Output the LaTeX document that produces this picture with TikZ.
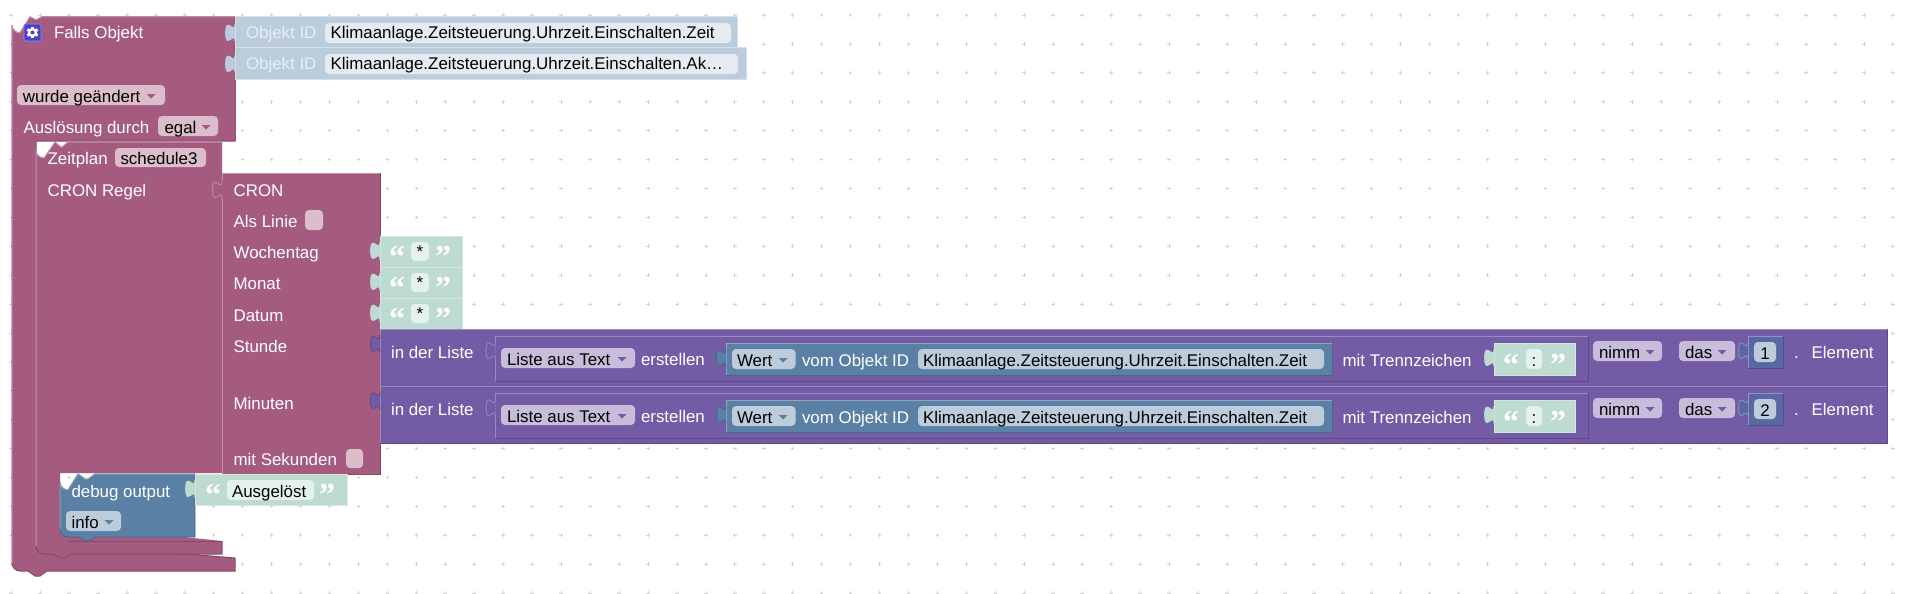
\documentclass[tikz,border=0pt]{standalone}
\usepackage{fontspec}
\setmainfont{Liberation Sans}
\newfontfamily\quotefont{Liberation Serif}
\definecolor{mag}{HTML}{A55B80}\definecolor{magL}{HTML}{C48FAA}\definecolor{magD}{HTML}{844966}\definecolor{magF}{HTML}{DBBDCC}
\definecolor{oid}{HTML}{BBCCDD}\definecolor{oidL}{HTML}{D5E0EA}\definecolor{oidF}{HTML}{E6EBF1}\definecolor{oidT}{HTML}{E8EEF4}
\definecolor{txt}{HTML}{BDDBD1}\definecolor{txtL}{HTML}{D3E7E0}\definecolor{txtF}{HTML}{E5F1ED}
\definecolor{pur}{HTML}{745BA5}\definecolor{purL}{HTML}{9B89C0}\definecolor{purD}{HTML}{5D4984}\definecolor{purF}{HTML}{C7BDDB}
\definecolor{blu}{HTML}{5B80A5}\definecolor{bluL}{HTML}{8CA6C0}\definecolor{bluD}{HTML}{496684}\definecolor{bluF}{HTML}{BDCCDB}
\definecolor{mth}{HTML}{5B67A5}\definecolor{mthD}{HTML}{495284}\definecolor{mthL}{HTML}{8C95C0}
\definecolor{gridc}{HTML}{D4D4D4}\definecolor{gearc}{HTML}{4A3FD0}
\tikzset{
  lab/.style={anchor=base west,inner sep=0pt,outer sep=0pt,font=\fontsize{16.9}{18}\selectfont},
  wlab/.style={lab,text=white},
  blab/.style={lab,text=black},
  qmark/.style={anchor=base,inner sep=0pt,outer sep=0pt,text=white,font=\quotefont\bfseries\fontsize{32}{32}\selectfont},
  fieldbox/.style={rounded corners=4pt,line width=0pt},
  edge/.style={line width=1pt},
  dropdown/.style={line width=0pt}
}
% \fieldr{x1}{y1}{x2}{y2}{colour}
\newcommand{\fieldr}[5]{\fill[fieldbox,#5] (#1,#2) rectangle (#3,#4);}
% \tabp{x}{y}{fill}{edge}
\newcommand{\tabp}[4]{\path[shift={(#1,#2)},fill=#3,draw=#4,line width=.8pt] (0,0) .. controls (0,11.7) and (-9.4,-9.4) .. (-9.4,8.8) .. controls (-9.4,27) and (0,5.9) .. (0,17.6);}
% \arrowd{x}{cy}{colour}
\newcommand{\arrowd}[3]{\fill[dropdown,#3,shift={(#1,#2)}] (-4.5,-2) -- (4.5,-2) -- (0,2.5) -- cycle;}
% \strblock{x1}{y1}{x2}{y2}
\newcommand{\boxed}[7]{\fill[#5] (#1,#2) rectangle (#3,#4);
  \draw[edge,#6] (#1,#4) -- (#1,#2) -- (#3,#2);
  \draw[edge,#7] (#3,#2) -- (#3,#4) -- (#1,#4);}
\begin{document}
\begin{tikzpicture}[x=1pt,y=-1pt]
\useasboundingbox (0,0) rectangle (1908,594);
\fill[white] (0,0) rectangle (1908,594);
% grid
\foreach \i in {0,...,65}{\foreach \j in {0,...,20}{
  \draw[gridc,line width=.6pt] ({11+28.95*\i-1.8},{15+28.9*\j}) -- ++(3.6,0) ({11+28.95*\i},{15+28.9*\j-1.8}) -- ++(0,3.6);
}}
% outer C block
\path[fill=mag,draw=magD,line width=1pt]
  (12,25) arc[start angle=180,end angle=90,radius=8] -- (30,17) -- (36,20) -- (42,17) -- (235,17) -- (235,141)
  -- (36,141) -- (36,550) arc[start angle=180,end angle=90,x radius=8,y radius=-8] -- (235,558) -- (235,571)
  -- (47,571) -- (40,576) -- (35,576) -- (28,571) -- (20,571) arc[start angle=90,end angle=180,radius=8] -- cycle;
\draw[edge,magL] (12,563) -- (12,25) arc[start angle=180,end angle=90,radius=8] -- (30,17) -- (36,20) -- (42,17) -- (235,17);
\draw[edge,magD!40!mag] (235,17) -- (235,141);
\fill[mag] (13,100) rectangle (36,560);
% Zeitplan block
\path[fill=mag]
  (36,150) arc[start angle=180,end angle=90,radius=8] -- (55,142) -- (61,147) -- (62,147) -- (68,142) -- (222,142) -- (222,473)
  -- (60,473) -- (60,533) arc[start angle=180,end angle=90,x radius=8,y radius=-8] -- (222,541) -- (222,554)
  -- (72,554) -- (65,558) -- (60,558) -- (53,554) -- (44,554) arc[start angle=90,end angle=180,radius=8] -- cycle;
\draw[edge,magL] (36,546) -- (36,150) arc[start angle=180,end angle=90,radius=8] -- (55,142) -- (61,147) -- (62,147) -- (68,142) -- (222,142);
\draw[edge,magD] (60,539) (68,541) -- (222,541);
\draw[edge,magD] (222,541) -- (222,554) -- (72,554) -- (65,558) -- (60,558) -- (53,554) -- (44,554) arc[start angle=90,end angle=180,radius=8];
% CRON block
\fill[mag] (222,173) rectangle (380,474);
\draw[edge,magL] (222,474) -- (222,198) (222,180) -- (222,173) -- (380,173);
\draw[edge,magD] (380,173) -- (380,474) -- (222,474);
\tabp{222}{181}{mag}{magL}
\fill[mag] (222.6,182) rectangle (224,198);
% Object ID blocks
\boxed{235}{17}{737}{48}{oid}{oidL}{oidL}
\boxed{235}{48}{746}{79}{oid}{oidL}{oidL}
\tabp{235}{24}{oid}{oid}
\tabp{235}{55}{oid}{oid}
\fieldr{325}{23}{731}{43}{oidF}
\fieldr{325}{54}{738}{74}{oidF}
% text blocks
\foreach \yy/\nm in {236/a,267/b,298/c}{
  \boxed{380}{\yy}{462}{\yy+31}{txt}{txtL}{txtL}
  \tabp{380}{\yy+6}{txt}{txt}
  \fieldr{411}{\yy+6}{429}{\yy+25}{txtF}
  \node[qmark] (qo\nm) at (397,\yy+31) {“};
  \node[qmark] (qc\nm) at (443,\yy+31) {”};
  \node[anchor=base,inner sep=0pt,font=\fontsize{16.9}{18}\selectfont] (st\nm) at (420,\yy+21.5) {*};
}
% purple rows
\foreach \yy/\dy/\num/\nm in {329/0/1/a,386/0/2/b}{
  \boxed{380}{\yy}{1887}{\yy+57}{pur}{purL}{purD}
  \tabp{380}{\yy+6}{pur}{purD}
  \fill[pur] (380.6,\yy+7) rectangle (382,\yy+23);
  % list block
  \draw[line width=1pt,purL] (1588,\yy+7) -- (495.5,\yy+7) -- (495.5,\yy+52);
  \draw[line width=1pt,purD] (495.5,\yy+52) -- (1588,\yy+52) -- (1588,\yy+7);
  \tabp{495.5}{\yy+13}{pur}{purL}
  \fill[pur] (496,\yy+14) rectangle (497,\yy+30);
  \fieldr{501}{\yy+19}{635}{\yy+39}{purF}
  \arrowd{622}{\yy+30}{pur}
  \node[blab] (la\nm) at (507,\yy+36) {Liste aus Text};
  \node[wlab] (er\nm) at (641,\yy+36) {erstellen};
  % value block
  \boxed{726}{\yy+14}{1332}{\yy+46}{blu}{bluL}{bluD}
  \tabp{726}{\yy+20}{blu}{bluD}
  \fieldr{732}{\yy+20}{795.5}{\yy+40}{bluF}
  \arrowd{783}{\yy+31}{blu}
  \node[blab] (we\nm) at (737,\yy+37) {Wert};
  \node[wlab] (vo\nm) at (802,\yy+37) {vom Objekt ID};
  \fieldr{918}{\yy+20}{1324}{\yy+40}{bluF}
  \node[blab] (kl\nm) at (923,\yy+37) {Klimaanlage.Zeitsteuerung.Uhrzeit.Einschalten.Zeit};
  \node[wlab] (mt\nm) at (1342.6,\yy+37) {mit Trennzeichen};
  % separator text
  \boxed{1494}{\yy+14}{1575}{\yy+46}{txt}{txtL}{txtL}
  \tabp{1494}{\yy+20}{txt}{txt}
  \fieldr{1526}{\yy+20}{1542}{\yy+40}{txtF}
  \node[qmark] (qs\nm) at (1511,\yy+46) {“};
  \node[qmark] (qe\nm) at (1558,\yy+46) {”};
  \node[anchor=base,inner sep=0pt,font=\fontsize{16.9}{18}\selectfont] (co\nm) at (1534,\yy+37) {:};
  % nimm, das
  \fieldr{1593}{\yy+12}{1662}{\yy+32}{purF}
  \arrowd{1650}{\yy+23}{pur}
  \node[blab] (ni\nm) at (1599,\yy+29) {nimm};
  \fieldr{1679}{\yy+12}{1735}{\yy+32}{purF}
  \arrowd{1722}{\yy+23}{pur}
  \node[blab] (da\nm) at (1685,\yy+29) {das};
  % number
  \boxed{1748}{\yy+7}{1783}{\yy+39}{mth}{mthL}{mthD}
  \tabp{1748}{\yy+13}{mth}{mthL}
  \fieldr{1754}{\yy+13}{1776}{\yy+33}{bluF}
  \node[anchor=base,inner sep=0pt,font=\fontsize{16.9}{18}\selectfont] (nu\nm) at (1765,\yy+30) {\num};
  \node[wlab] (do\nm) at (1794,\yy+29) {.};
  \node[wlab] (el\nm) at (1811.6,\yy+29) {Element};
  \node[wlab] (in\nm) at (391,\yy+29) {in der Liste};
}
% debug block
\path[fill=blu,draw=bluD,line width=.8pt]
  (60,482) arc[start angle=180,end angle=90,radius=8] -- (78,474) -- (85,479) -- (88,479) -- (95,474) -- (195,474) -- (195,537)
  -- (95,537) -- (89,541) -- (85,541) -- (79,537) -- (68,537) arc[start angle=90,end angle=180,radius=8] -- cycle;
\draw[edge,bluL] (60,529) -- (60,482) arc[start angle=180,end angle=90,radius=8] -- (78,474) -- (85,479) -- (88,479) -- (95,474) -- (195,474);
\fieldr{66}{511}{121}{531}{bluF}
\arrowd{109}{522}{blu}
% Ausgeloest
\boxed{195}{474}{347}{505}{txt}{txtL}{txtL}
\tabp{195}{480}{txt}{txt}
\fieldr{227}{480}{314}{500}{txtF}
% fields top left
\fieldr{17}{85}{165}{105}{magF}
\arrowd{151}{96}{mag}
\fieldr{158}{116}{218}{136}{magF}
\arrowd{206}{127}{mag}
\fieldr{115}{148}{206}{167}{magF}
\fieldr{305}{210}{323}{230}{magF}
\fieldr{346}{449}{363}{468}{magF}
% gear
\fill[rounded corners=2pt,gearc,draw=white!40!gearc,line width=.6pt] (24,24) rectangle (41,41);
\foreach \a in {0,60,...,300}{\fill[white,rotate around={\a:(32.5,32.5)}] (31,26.6) rectangle (34,30);}
\fill[white] (32.5,32.5) circle[radius=4.6];
\fill[gearc] (32.5,32.5) circle[radius=2];
% labels
\node[wlab] (falls) at (54,39) {Falls Objekt};
\node[lab,text=oidT] (oa) at (246,39) {Objekt ID};
\node[lab,text=oidT] (ob) at (246,70) {Objekt ID};
\node[blab] (fa) at (330.5,39) {Klimaanlage.Zeitsteuerung.Uhrzeit.Einschalten.Zeit};
\node[blab] (fb) at (330.5,70) {Klimaanlage.Zeitsteuerung.Uhrzeit.Einschalten.Ak…};
\node[blab] (wg) at (23,102) {wurde geändert};
\node[wlab] (au) at (23.5,133) {Auslösung durch};
\node[blab] (eg) at (164.5,133) {egal};
\node[wlab] (zp) at (47.6,164) {Zeitplan};
\node[blab] (sc) at (120.5,164) {schedule3};
\node[wlab] (cr) at (47.6,196) {CRON Regel};
\node[wlab] (cn) at (233.6,196) {CRON};
\node[wlab] (al) at (233.6,227) {Als Linie};
\node[wlab] (wt) at (233.6,258) {Wochentag};
\node[wlab] (mo) at (233.6,289) {Monat};
\node[wlab] (dt) at (233.6,321) {Datum};
\node[wlab] (su) at (233.6,352) {Stunde};
\node[wlab] (mi) at (233.6,409) {Minuten};
\node[wlab] (ms) at (233.6,465) {mit Sekunden};
% tabs for values on CRON
\node[wlab] (db) at (71.5,497) {debug output};
\node[blab] (nf) at (71.5,528) {info};
\node[qmark] (qo) at (213,505) {“};
\node[qmark] (qc) at (327,505) {”};
\node[blab] (ag) at (232,497) {Ausgelöst};
\end{tikzpicture}
\end{document}
